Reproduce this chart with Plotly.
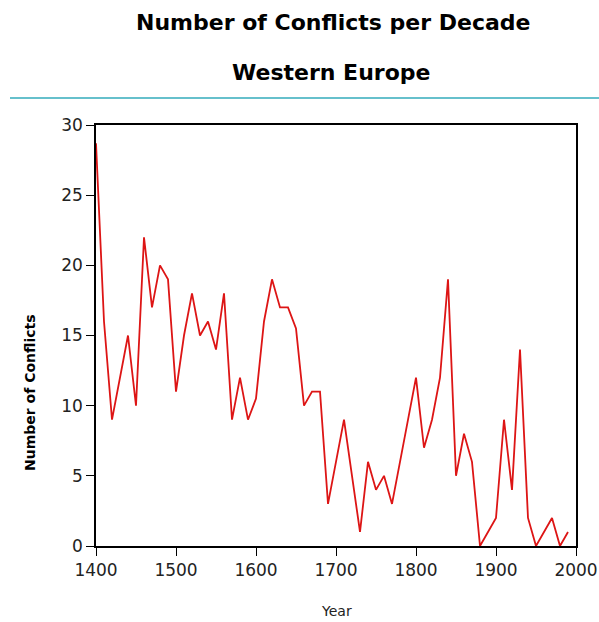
import plotly.graph_objects as go

years = [1400, 1405, 1410, 1420, 1430, 1440, 1450, 1460, 1470, 1480, 1490,
         1500, 1510, 1520, 1530, 1540, 1550, 1560, 1570, 1580, 1590,
         1600, 1610, 1620, 1630, 1640, 1650, 1660, 1670, 1680, 1690,
         1700, 1710, 1720, 1730, 1740, 1750, 1760, 1770, 1780, 1790,
         1800, 1810, 1820, 1830, 1840, 1850, 1860, 1870, 1880, 1890,
         1900, 1910, 1920, 1930, 1940, 1950, 1960, 1970, 1980, 1990]
conflicts = [28.7, 22.3, 16, 9, 12, 15, 10, 22, 17, 20, 19,
             11, 15, 18, 15, 16, 14, 18, 9, 12, 9,
             10.5, 16, 19, 17, 17, 15.5, 10, 11, 11, 3,
             6, 9, 5, 1, 6, 4, 5, 3, 6, 9,
             12, 7, 9, 12, 19, 5, 8, 6, 0, 1,
             2, 9, 4, 14, 2, 0, 1, 2, 0, 1]

x_ticks = [1400, 1500, 1600, 1700, 1800, 1900, 2000]
y_ticks = [0, 5, 10, 15, 20, 25, 30]

title_main = "Number of Conflicts per Decade"
title_sub = "Western Europe"
x_title = "Year"
y_title = "Number of Conflicts"

W, H = 599, 622
L, T = 96, 125
R = W - 576
B = H - 546
PW, PH = W - L - R, H - T - B


def px_x(p):
    return (p - L) / PW


def px_y(p):
    return (H - B - p) / PH


fig = go.Figure()
fig.add_trace(go.Scatter(x=years, y=conflicts, mode="lines",
                         line=dict(color="#dd1515", width=1.8),
                         hoverinfo="x+y", showlegend=False))

axis_common = dict(showgrid=False, zeroline=False, showline=True,
                   linecolor="black", linewidth=1.5, mirror=True,
                   automargin=False,
                   ticks="outside", ticklen=8, tickwidth=1.2, tickcolor="black",
                   tickfont=dict(family="DejaVu Sans", size=17, color="#222"))

fig.update_xaxes(range=[1400, 2000], tickvals=x_ticks, **axis_common)
fig.update_yaxes(range=[0, 30], tickvals=y_ticks, **axis_common)

fig.add_annotation(text=title_main, xref="paper", yref="paper",
                   x=px_x(333), y=px_y(22), showarrow=False,
                   xanchor="center", yanchor="middle",
                   font=dict(family="DejaVu Sans", size=22, color="black", weight="bold"))
fig.add_annotation(text=title_sub, xref="paper", yref="paper",
                   x=px_x(331), y=px_y(72), showarrow=False,
                   xanchor="center", yanchor="middle",
                   font=dict(family="DejaVu Sans", size=22, color="black", weight="bold"))
fig.add_annotation(text=x_title, xref="paper", yref="paper",
                   x=px_x(336), y=px_y(611), showarrow=False,
                   xanchor="center", yanchor="middle",
                   font=dict(family="DejaVu Sans", size=14, color="#222"))
fig.add_annotation(text=y_title, xref="paper", yref="paper",
                   x=px_x(30), y=px_y(393), showarrow=False, textangle=-90,
                   xanchor="center", yanchor="middle",
                   font=dict(family="DejaVu Sans", size=14, color="black", weight="bold"))

fig.add_shape(type="line", xref="paper", yref="paper",
              x0=px_x(10), x1=px_x(599), y0=px_y(98), y1=px_y(98),
              line=dict(color="#66c0cc", width=2))

fig.update_layout(width=W, height=H, autosize=False,
                  margin=dict(l=L, r=R, t=T, b=B, pad=0, autoexpand=False),
                  paper_bgcolor="white", plot_bgcolor="white")

fig.write_html("out.html", config={"displayModeBar": False},
               post_script="document.body.style.margin='0';"
                           "document.body.style.overflow='hidden';")
